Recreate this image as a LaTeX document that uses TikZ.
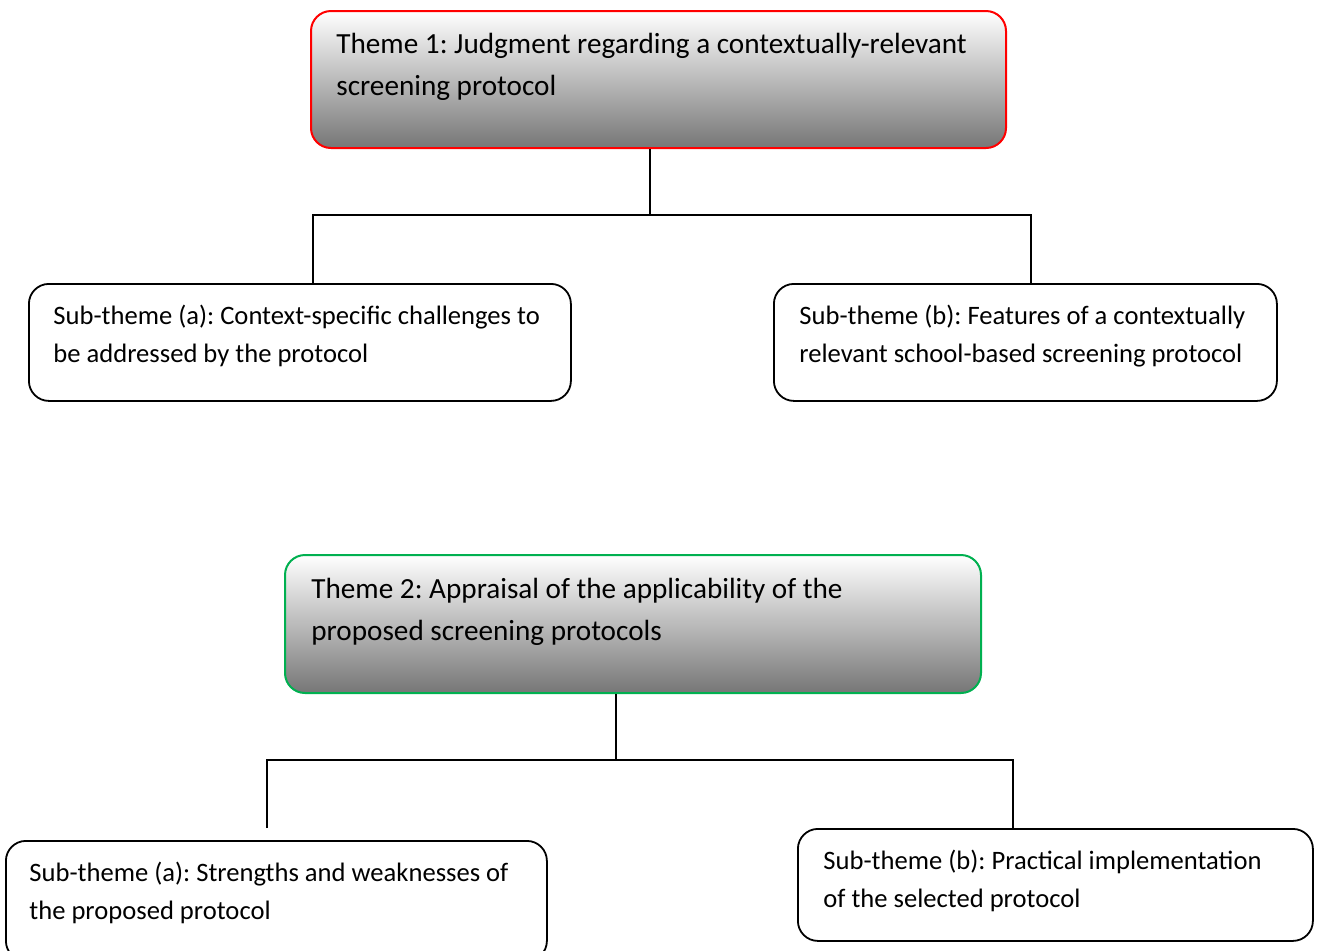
\documentclass[tikz,border=0pt]{standalone}
\usepackage{fontspec}
\setmainfont{Carlito}
\usetikzlibrary{positioning,calc}
\definecolor{shadegray}{RGB}{118,118,118}
\definecolor{themered}{RGB}{255,0,0}
\definecolor{themegreen}{RGB}{0,176,80}
\frenchspacing
\tikzset{
  themebox/.style={rectangle, rounded corners=10pt, line width=1pt,
    top color=white, bottom color=shadegray, anchor=north west, inner sep=0pt},
  subbox/.style={rectangle, rounded corners=10pt, draw=black, line width=0.9pt,
    fill=white, anchor=north west, inner sep=0pt},
  themetxt/.style={anchor=base west, align=left, inner sep=0pt,
    font=\fontsize{14.6}{21}\selectfont},
  subtxt/.style={anchor=base west, align=left, inner sep=0pt,
    font=\fontsize{13.3}{19}\selectfont},
  link/.style={draw=black, line width=0.9pt}
}

\begin{document}
\begin{tikzpicture}[x=0.5pt,y=-0.5pt]
\useasboundingbox (0,0) rectangle (1317,950);

% first theme (base anchor sits on the last line)
\node[themebox, draw=themered, minimum width=347.5pt, minimum height=68.5pt]
  (theme1) at (310,10) {};
\node[themetxt] (theme1txt) at ($(theme1.north west)+(26,85)$)
  {Theme 1: Judgment regarding a contextually-relevant\\screening protocol};

\node[subbox, minimum width=271pt, minimum height=58.5pt] (suba1) at (28,283) {};
\node[subtxt] (suba1txt) at ($(suba1.north west)+(25,79)$)
  {Sub-theme (a): Context-specific challenges to\\be addressed by the protocol};

\node[subbox, minimum width=251.5pt, minimum height=58.5pt] (subb1) at (773,283) {};
\node[subtxt] (subb1txt) at ($(subb1.north west)+(26,79)$)
  {Sub-theme (b): Features of a contextually\\relevant school-based screening protocol};

\coordinate (fork1) at (650,215);
\draw[link] (theme1.south -| fork1) -- (fork1);
\draw[link] ([xshift=6.5pt]suba1.north) |- (fork1) -| ([xshift=2.75pt]subb1.north);

% second theme
\node[themebox, draw=themegreen, minimum width=348pt, minimum height=69pt]
  (theme2) at (284,554) {};
\node[themetxt] (theme2txt) at ($(theme2.north west)+(27,86)$)
  {Theme 2: Appraisal of the applicability of the\\proposed screening protocols};

\node[subbox, minimum width=270.5pt, minimum height=60pt] (suba2) at (5,840) {};
\node[subtxt] (suba2txt) at ($(suba2.north west)+(24,79)$)
  {Sub-theme (a): Strengths and weaknesses of\\the proposed protocol};

\node[subbox, minimum width=257.5pt, minimum height=56pt] (subb2) at (797,828) {};
\node[subtxt] (subb2txt) at ($(subb2.north west)+(26,79)$)
  {Sub-theme (b): Practical implementation\\of the selected protocol};

\coordinate (fork2) at (616,760);
\coordinate (stub2) at ($(suba2.north)+(-9.5,-12)$);
\draw[link] (theme2.south -| fork2) -- (fork2);
\draw[link] (stub2) |- (fork2) -| ([xshift=-21.25pt]subb2.north);
\end{tikzpicture}
\end{document}
